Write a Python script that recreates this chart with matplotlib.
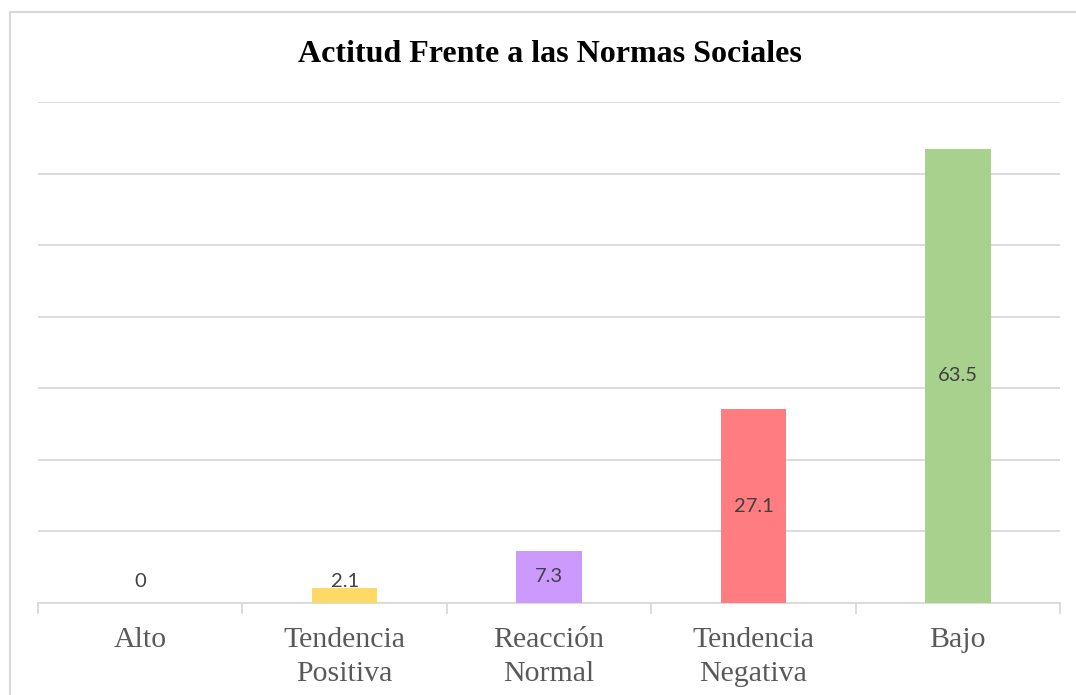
import matplotlib
matplotlib.use("Agg")
import matplotlib.pyplot as plt
from matplotlib.patches import Rectangle
import numpy as np

categories = ["Alto", "Tendencia\nPositiva", "Reacción\nNormal", "Tendencia\nNegativa", "Bajo"]
values = [0, 2.1, 7.3, 27.1, 63.5]
colors = ["#FFD966", "#FFD966", "#CC99FF", "#FF7C80", "#A9D18E"]
title = "Actitud Frente a las Normas Sociales"

fig = plt.figure(figsize=(10.76, 6.95), dpi=100)
ax = fig.add_axes([38/1076, 92/695, (1060-38)/1076, (603-102)/695])

# chart frame border
fig.patches.append(Rectangle((10/1076, -0.05), 1.2, (695-12)/695 + 0.05,
                             transform=fig.transFigure, fill=False,
                             edgecolor="#D9D9D9", linewidth=1.5))

x = np.arange(len(categories))
ax.bar(x, values, width=0.32, color=colors, zorder=3)

ax.set_xlim(-0.5, len(categories) - 0.5)
ax.set_ylim(0, 70)
ax.set_yticks(np.arange(0, 71, 10))
ax.yaxis.grid(True, color="#D9D9D9", linewidth=1.3, zorder=0)
ax.tick_params(axis="y", length=0, labelleft=False)
for s in ["top", "right", "left"]:
    ax.spines[s].set_visible(False)
ax.spines["bottom"].set_color("#D9D9D9")
ax.spines["bottom"].set_linewidth(1.3)

ax.set_xticks(x)
ax.set_xticklabels(categories, fontfamily="Liberation Serif", fontsize=21.5,
                   color="#595959", linespacing=1.4)
ax.tick_params(axis="x", which="major", length=0, pad=17)
ax.set_xticks(np.arange(-0.5, len(categories)), minor=True)
ax.tick_params(axis="x", which="minor", length=8, color="#D9D9D9", width=1.3)

for xi, v in zip(x, values):
    ax.text(xi, max(v / 2, 3.0), f"{v:g}", ha="center", va="center",
            fontfamily="Lato", fontsize=14.5, color="#404040", zorder=4)

fig.text(550/1076, 1 - 55/695, title, ha="center", va="center",
         fontfamily="Liberation Serif", fontweight="bold", fontsize=23, color="black")

fig.savefig("out.png", dpi=100)
